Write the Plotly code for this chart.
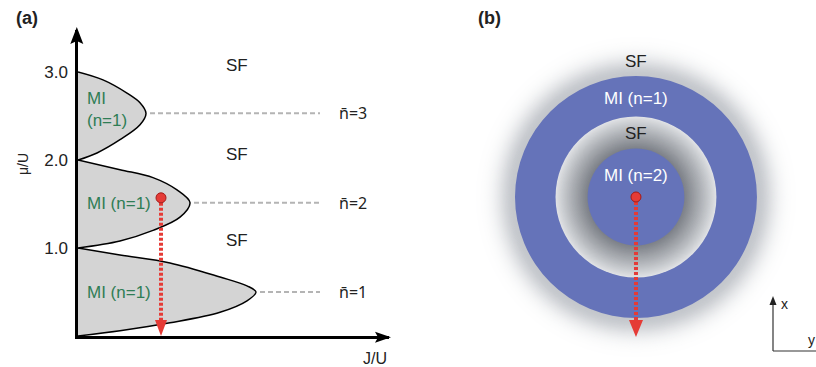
import plotly.graph_objects as go

# ---------------- data: Mott lobes in the (J/U, mu/U) plane ----------------
# each lobe runs from its upper boundary (at J=0) through the tip and back to J=0
lobe1_J = [0.0, 0.042, 0.092, 0.142, 0.169, 0.178, 0.169, 0.142, 0.092, 0.042, 0.0]
lobe1_mu = [1.0, 0.92, 0.83, 0.67, 0.57, 0.50, 0.40, 0.27, 0.15, 0.06, 0.0]

lobe2_J = [0.0, 0.042, 0.075, 0.099, 0.112, 0.102, 0.075, 0.042, 0.0]
lobe2_mu = [2.0, 1.89, 1.80, 1.66, 1.515, 1.35, 1.20, 1.08, 1.0]

lobe3_J = [0.0, 0.025, 0.049, 0.062, 0.068, 0.062, 0.042, 0.019, 0.0]
lobe3_mu = [3.0, 2.91, 2.76, 2.65, 2.53, 2.40, 2.23, 2.08, 2.0]

tip_J = [0.178, 0.112, 0.068]
tip_mu = [0.50, 1.515, 2.53]
nbar_labels = ["n\u0304=1", "n\u0304=2", "n\u0304=3"]
mi_labels = ["MI (n=1)", "MI (n=1)", "MI<br>(n=1)"]
mi_label_mu = [0.50, 1.51, 2.57]
sf_label_mu = [1.08, 2.06, 3.07]
mu_ticks = [1.0, 2.0, 3.0]
mu_tick_text = ["1.0", "2.0", "3.0"]

# operating point of the trap centre (J/U, mu/U)
state_J = 0.083
state_mu = 1.57

# ---------------- data: shell structure in the trap ----------------
r_mi_inner = 0.40   # MI (n=2) core
r_sf_inner = 0.665  # superfluid shell
r_mi_outer = 1.0    # MI (n=1) shell
r_halo = 1.34       # outer superfluid halo

J_max, mu_max = 0.311, 3.477

BLUE = "#6573b9"
GREEN = "#2f7d55"
RED = "#e53b36"
LOBE_FILL = "#d4d4d4"
FONT = "Liberation Sans, Arial, sans-serif"

fig = go.Figure()

# lobes
for J, mu in [(lobe1_J, lobe1_mu), (lobe2_J, lobe2_mu), (lobe3_J, lobe3_mu)]:
    fig.add_trace(go.Scatter(
        x=J, y=mu, mode="lines", fill="toself", fillcolor=LOBE_FILL,
        line=dict(color="black", width=1.5, shape="spline", smoothing=1.0),
        hoverinfo="skip", xaxis="x", yaxis="y"))

# dashed guides from lobe tips
guide_end = 0.242
for tj, tm in zip(tip_J, tip_mu):
    fig.add_trace(go.Scatter(
        x=[tj + 0.004, guide_end], y=[tm, tm], mode="lines",
        line=dict(color="#b4b4b4", width=2, dash="5px,3px"),
        hoverinfo="skip", xaxis="x", yaxis="y"))

# red path of the local chemical potential
fig.add_trace(go.Scatter(
    x=[state_J, state_J], y=[state_mu, 0.17], mode="lines",
    line=dict(color=RED, width=4, dash="3px,2px"),
    hoverinfo="skip", xaxis="x", yaxis="y"))
fig.add_trace(go.Scatter(
    x=[state_J], y=[state_mu], mode="markers",
    marker=dict(size=10, color=RED, line=dict(color="#a31b18", width=1)),
    hoverinfo="skip", xaxis="x", yaxis="y"))

# trap: red radial path
fig.add_trace(go.Scatter(
    x=[0, 0], y=[0, -1.02], mode="lines",
    line=dict(color=RED, width=4, dash="3px,2px"),
    hoverinfo="skip", xaxis="x2", yaxis="y2"))
fig.add_trace(go.Scatter(
    x=[0], y=[0], mode="markers",
    marker=dict(size=10, color=RED, line=dict(color="#a31b18", width=1)),
    hoverinfo="skip", xaxis="x2", yaxis="y2"))

shapes = []


def mix(c0, c1, t):
    return "rgb(%d,%d,%d)" % tuple(round(a + (b - a) * t) for a, b in zip(c0, c1))


def disk(r, color):
    return dict(type="circle", xref="x2", yref="y2", x0=-r, x1=r, y0=-r, y1=r,
                fillcolor=color, line=dict(width=0), layer="below")


# soft superfluid halo outside the outer Mott shell
WHITE = (255, 255, 255)
steps = 68
for i in range(steps + 1):
    r = r_halo - (r_halo - r_mi_outer) * i / steps
    f = 2.718281828 ** (-((r - r_mi_outer) / 0.15) ** 2)
    shapes.append(disk(r, mix(WHITE, (196, 199, 204), f)))
shapes.append(disk(r_mi_outer, BLUE))

# superfluid shell between the two Mott regions
steps = 50
for i in range(steps + 1):
    r = r_sf_inner - (r_sf_inner - r_mi_inner) * i / steps
    t = (r_sf_inner - r) / (r_sf_inner - r_mi_inner)
    shapes.append(disk(r, mix((224, 226, 229), (124, 128, 135), t ** 0.95)))
shapes.append(disk(r_mi_inner, BLUE))


def head(xref, yref, x, y, path, color):
    return dict(type="path", xref=xref, yref=yref, xsizemode="pixel", ysizemode="pixel",
                xanchor=x, yanchor=y, path=path, fillcolor=color, line=dict(width=0),
                layer="above")


# axis arrowheads (paper-anchored so they are not clipped by the plot area)
shapes.append(head("paper", "paper", 76.8 / 816, 1 - 27 / 367,
                   "M-6.5,-17 L0,0 L6.5,-17 L0,-14 Z", "black"))
shapes.append(head("paper", "paper", 391 / 816, 1 - 337.2 / 367,
                   "M-16,-5.5 L0,0 L-16,5.5 L-13,0 Z", "black"))
# red arrowheads
shapes.append(head("x", "y", state_J, 0, "M-6,16 L0,0 L6,16 Z", RED))
shapes.append(head("x2", "y2", 0, -1.157, "M-7,17 L0,0 L7,17 Z", RED))

# small x/y orientation marker
ox, oy = 773 / 816, 1 - 351 / 367
shapes.append(dict(type="line", xref="paper", yref="paper", x0=ox, x1=ox, y0=oy, y1=1 - 300 / 367,
                   line=dict(color="#333333", width=1.2)))
shapes.append(dict(type="line", xref="paper", yref="paper", x0=ox, x1=1.0, y0=oy, y1=oy,
                   line=dict(color="#333333", width=1.2)))
shapes.append(head("paper", "paper", ox, 1 - 296 / 367, "M-3.5,-9 L0,0 L3.5,-9 Z", "#222222"))

ann = []


def text(x, y, s, size=17, color="#222222", xref="x", yref="y", family=FONT, **kw):
    d = dict(x=x, y=y, xref=xref, yref=yref, text=s, showarrow=False,
             xanchor="center", yanchor="middle",
             font=dict(family=family, size=size, color=color))
    d.update(kw)
    ann.append(d)


for m in sf_label_mu:
    text(0.159, m, "SF")
for m, lab in zip(tip_mu, nbar_labels):
    text(0.275, m, lab, size=16, family="Noto Sans, DejaVu Sans, sans-serif")
for m, lab in zip(mi_label_mu, mi_labels):
    text(0.007, m, lab, color=GREEN, xanchor="left", align="left")

text(375 / 816, 1 - 358 / 367, "J/U", size=16, xref="paper", yref="paper")
text(23 / 816, 1 - 164 / 367, "\u03bc/U", size=14, xref="paper", yref="paper", textangle=-90)
text(27 / 816, 1 - 18 / 367, "<b>(a)</b>", size=18, xref="paper", yref="paper")
text(489 / 816, 1 - 18 / 367, "<b>(b)</b>", size=18, xref="paper", yref="paper")

# labels of the trap shells
text(0, 1.116, "SF", xref="x2", yref="y2")
text(0, 0.818, "MI (n=1)", color="white", xref="x2", yref="y2")
text(0, 0.521, "SF", xref="x2", yref="y2")
text(0, 0.174, "MI (n=2)", color="white", xref="x2", yref="y2")

text(784 / 816, 1 - 304 / 367, "x", size=14, xref="paper", yref="paper")
text(811 / 816, 1 - 340 / 367, "y", size=14, xref="paper", yref="paper")

fig.update_layout(
    width=816, height=367, margin=dict(l=0, r=0, t=0, b=0),
    paper_bgcolor="white", plot_bgcolor="rgba(0,0,0,0)", showlegend=False,
    xaxis=dict(domain=[78 / 816, 389 / 816], range=[0, J_max], showgrid=False, zeroline=False,
               showticklabels=False, ticks="", showline=True, linecolor="black", linewidth=2.5,
               fixedrange=True),
    yaxis=dict(domain=[1 - 336 / 367, 1 - 30 / 367], range=[0, mu_max], showgrid=False,
               zeroline=False, tickvals=mu_ticks, ticktext=mu_tick_text, ticks="",
               ticklabelstandoff=4, tickfont=dict(family=FONT, size=17, color="#222222"),
               showline=True, linecolor="black", linewidth=2.5, fixedrange=True),
    xaxis2=dict(domain=[470 / 816, 1.0], range=[-1.372, 1.488], visible=False, fixedrange=True),
    yaxis2=dict(domain=[0, 1], range=[-1.405, 1.628], visible=False, fixedrange=True),
    shapes=shapes, annotations=ann,
)

fig.write_html("out.html")
